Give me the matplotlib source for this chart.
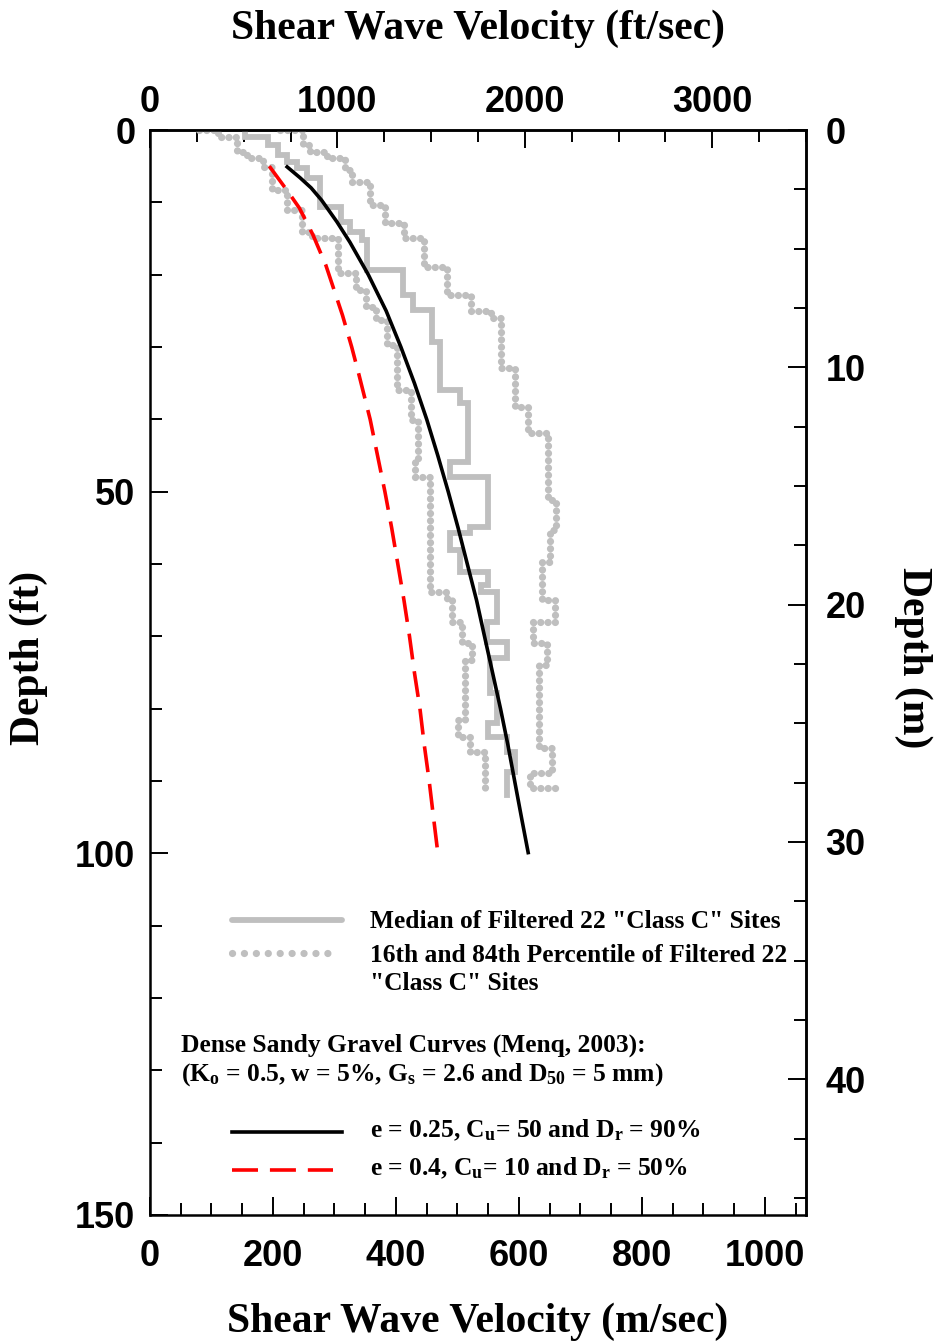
import matplotlib
matplotlib.use("Agg")
import matplotlib.pyplot as plt
from matplotlib.ticker import MultipleLocator

# ---------------- data (velocity in m/s, depth in ft) ----------------
# Median of filtered 22 "Class C" sites (step profile)
med_top_ft = [0, 1.0, 2.1, 3.5, 4.4, 5.3, 6.6, 10.6, 12.7, 14.1, 15.2, 19.4, 22.8,
              24.9, 29.3, 35.9, 37.7, 45.9, 48.0, 54.9, 55.7, 58.0, 61.1, 62.9, 63.9,
              68.0, 70.8, 73.0, 77.8, 82.0, 83.9, 86.0, 88.7]
med_vs = [155, 192, 208, 223, 239, 255, 276, 311, 325, 345, 353, 411, 428,
          459, 472, 504, 517, 488, 550, 520, 488, 504, 550, 538, 564,
          548, 581, 553, 564, 550, 581, 594, 581]
med_bottom_ft = 91.9

# 16th percentile
p16_start_vs = 80
p16_top_ft = [0, 1.0, 3.0, 3.9, 5.1, 8.3, 11.1, 14.1, 14.9, 19.8, 22.1, 24.5, 26.3,
              29.7, 35.9, 40.1, 45.6, 48.0, 63.9, 65.0, 68.0, 70.9, 73.3, 81.5,
              83.9, 86.0]
p16_vs = [111, 142, 158, 184, 198, 223, 247, 263, 306, 335, 351, 368, 385,
          402, 424, 436, 431, 455, 483, 491, 507, 524, 512, 501, 520, 545]
p16_bottom_ft = 90.9
p16_end_vs = 537

# 84th percentile
p84_start_vs = 211
p84_top_ft = [0, 2.1, 3.0, 3.9, 5.5, 7.2, 10.4, 12.9, 14.9, 18.9, 22.8, 25.0, 26.0,
              32.9, 38.3, 41.9, 51.1, 55.3, 59.7, 65.0, 68.0, 70.9, 73.9, 85.4, 88.9]
p84_vs = [248, 260, 288, 317, 328, 358, 382, 413, 446, 483, 522, 555, 571,
          594, 615, 647, 660, 650, 637, 659, 623, 646, 633, 654, 618]
p84_bottom_ft = 90.9
p84_end_vs = 663

# Menq (2003) dense sandy gravel curves
menq1_depth_ft = [5.1, 6.6, 8.0, 9.7, 12.7, 15.5, 20.0, 25.0, 30.0, 35.0, 40.0, 45.0,
                  50.0, 55.0, 60.0, 65.0, 70.0, 75.0, 80.0, 85.0, 90.0, 95.0, 99.9]
menq1_vs = [223, 244, 262, 279, 304, 325, 355, 384, 408, 430, 450, 468,
            485, 501, 516, 531, 544, 557, 570, 582, 593, 604, 615]
menq2_depth_ft = [5.0, 8.6, 10.8, 14.5, 18.7, 25.6, 30.0, 33.9, 40.0, 45.0, 50.0,
                  55.0, 60.0, 65.0, 70.0, 75.0, 80.0, 85.0, 90.0, 95.0, 99.9]
menq2_vs = [194, 225, 243, 265, 286, 313, 328, 340, 358, 370, 382,
            393, 403, 413, 422, 430, 439, 446, 454, 461, 468]

FT_PER_M = 3.28084

W, H = 938, 1343
plt.rcParams["mathtext.fontset"] = "custom"
plt.rcParams["mathtext.rm"] = "Liberation Serif:bold"
plt.rcParams["mathtext.it"] = "Liberation Serif:bold:italic"
plt.rcParams["mathtext.bf"] = "Liberation Serif:bold"

fig = plt.figure(figsize=(W / 100, H / 100), dpi=100)
L, R, T, B = 150, 806, 130, 1215
ax = fig.add_axes([L / W, 1 - B / H, (R - L) / W, (B - T) / H])


def step_path(v_start, tops, vs, bottom, v_end):
    xs, ys = [v_start], [tops[0]]
    bounds = list(tops[1:]) + [bottom]
    for v, t, b in zip(vs, tops, bounds):
        xs += [v, v]
        ys += [t, b]
    xs.append(v_end)
    ys.append(bottom)
    return xs, ys


gray = "#bfbfbf"
DOT_LW = 5.2
dot_style = (0, (0.01, 1.0))
MED_LW = 4.2
CURVE_LW = 2.6
red_dash = (0, (7.2, 3.3))

x, y = step_path(med_vs[0], med_top_ft, med_vs, med_bottom_ft, med_vs[-1])
ax.plot(x, y, color=gray, lw=MED_LW, solid_joinstyle="miter", zorder=2)

x, y = step_path(p16_start_vs, p16_top_ft, p16_vs, p16_bottom_ft, p16_end_vs)
ax.plot(x, y, color=gray, lw=DOT_LW, linestyle=dot_style, dash_capstyle="round", zorder=2)
x, y = step_path(p84_start_vs, p84_top_ft, p84_vs, p84_bottom_ft, p84_end_vs)
ax.plot(x, y, color=gray, lw=DOT_LW, linestyle=dot_style, dash_capstyle="round", zorder=2)

ax.plot(menq1_vs, menq1_depth_ft, color="black", lw=CURVE_LW, zorder=3)
ax.plot(menq2_vs, menq2_depth_ft, color="#ff0000", lw=CURVE_LW,
        linestyle=red_dash, zorder=3)

tick_font = dict(family=["Liberation Sans", "DejaVu Sans"], weight="bold", size=26)

ax.xaxis.set_minor_locator(MultipleLocator(50))
ax.yaxis.set_minor_locator(MultipleLocator(10))
ax.tick_params(which="both", direction="in", width=1.4, colors="black")
ax.tick_params(which="major", length=13)
ax.tick_params(which="minor", length=8.5)
ax.tick_params(axis="x", pad=17.5)
ax.tick_params(axis="y", pad=10.5)
xt = [0, 200, 400, 600, 800, 1000]
ax.set_xticks(xt)
ax.set_xticklabels([str(t) for t in xt], **tick_font)
ax.set_yticks([0, 50, 100, 150])
ax.set_yticklabels(["0", "50", "100", "150"], **tick_font)
ax.set_xlim(0, 3500 / FT_PER_M)
ax.set_ylim(150, 0)

for s in ax.spines.values():
    s.set_linewidth(1.8)

secx = ax.secondary_xaxis("top", functions=(lambda v: v * FT_PER_M, lambda f: f / FT_PER_M))
secx.set_xticks([0, 1000, 2000, 3000])
secx.set_xticklabels(["0", "1000", "2000", "3000"], **tick_font)
secx.xaxis.set_minor_locator(MultipleLocator(250))
secx.tick_params(which="both", direction="in", width=1.4)
secx.tick_params(which="major", length=13, pad=7.5)
secx.tick_params(which="minor", length=8.5)
secx.spines["top"].set_linewidth(1.8)

secy = ax.secondary_yaxis("right", functions=(lambda f: f / FT_PER_M, lambda m: m * FT_PER_M))
secy.set_yticks([0, 10, 20, 30, 40])
secy.set_yticklabels(["0", "10", "20", "30", "40"], **tick_font)
secy.yaxis.set_minor_locator(MultipleLocator(2.5))
secy.tick_params(which="both", direction="in", width=1.4)
secy.tick_params(which="major", length=13, pad=14)
secy.tick_params(which="minor", length=8.5)
secy.spines["right"].set_linewidth(1.8)

title_font = dict(family=["Liberation Serif", "DejaVu Serif"], weight="bold", size=30)


def ftxt(px, py, s, **kw):
    fig.text(px / W, 1 - py / H, s, **kw)


ftxt(478, 29, "Shear Wave Velocity (ft/sec)", ha="center", va="center", **title_font)
ftxt(478, 1322, "Shear Wave Velocity (m/sec)", ha="center", va="center", **title_font)
ftxt(29, 658, "Depth (ft)", ha="center", va="center", rotation=90, **title_font)
ftxt(913, 658, "Depth (m)", ha="center", va="center", rotation=270, **title_font)

# ---------------- legend (drawn in pixel space) ----------------
leg_font = dict(family=["Liberation Serif", "DejaVu Serif"], weight="bold", size=18.4)


def fline(x0, x1, py, **kw):
    fig.add_artist(plt.Line2D([x0 / W, x1 / W], [1 - py / H, 1 - py / H],
                              transform=fig.transFigure, **kw))


fline(232, 342, 920, color=gray, lw=MED_LW, solid_capstyle="round")
ftxt(370, 922, 'Median of Filtered 22 "Class C" Sites', ha="left", va="center", **leg_font)
fline(232, 338, 953, color=gray, lw=DOT_LW, linestyle=(0, (0.01, 1.64)), dash_capstyle="round")
ftxt(370, 955, '16th and 84th Percentile of Filtered 22', ha="left", va="center", **leg_font)
ftxt(370, 983, '"Class C" Sites', ha="left", va="center", **leg_font)

ftxt(181, 1045, "Dense Sandy Gravel Curves (Menq, 2003):", ha="left", va="center", **leg_font)
ftxt(181, 1075, r"(K$_\mathrm{o}$ = 0.5, w = 5%, G$_\mathrm{s}$ = 2.6 and D$_\mathrm{50}$ = 5 mm)",
     ha="left", va="center", **leg_font)

fline(232, 342, 1132, color="black", lw=CURVE_LW)
ftxt(370, 1130, r"e = 0.25, C$_\mathrm{u}$= 50 and D$_\mathrm{r}$ = 90%", ha="left", va="center", **leg_font)
fline(232, 333, 1170, color="#ff0000", lw=CURVE_LW, linestyle=red_dash)
ftxt(370, 1168, r"e = 0.4, C$_\mathrm{u}$= 10 and D$_\mathrm{r}$ = 50%", ha="left", va="center", **leg_font)

fig.savefig("out.png", dpi=100)
